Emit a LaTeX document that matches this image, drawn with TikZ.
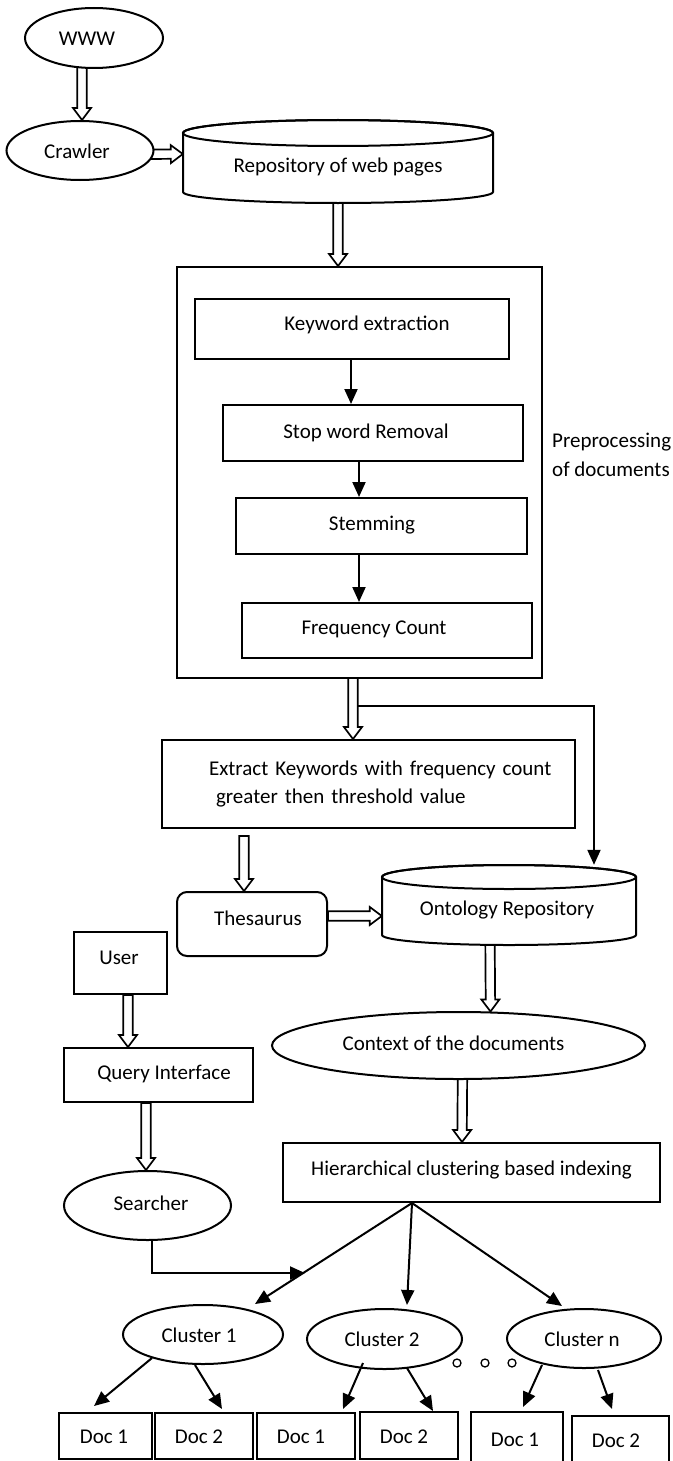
\documentclass[tikz,border=0pt]{standalone}
\usepackage{fontspec}
\setmainfont{Carlito}
\usetikzlibrary{calc,arrows.meta,shapes.geometric}
\pgfdeclarelayer{bg}
\pgfsetlayers{bg,main}
\newcommand\hs[1]{\hspace*{#1pt}}
% hollow block arrow from #1 to #2
\newcommand\barr[2]{%
  \coordinate (bs) at #1;
  \coordinate (be) at #2;
  \coordinate (bh) at ($(be)!12pt!(bs)$);
  \draw[blk] ($(bs)!4.7pt!90:(be)$) -- ($(bh)!4.7pt!90:(be)$) -- ($(bh)!9pt!90:(be)$) -- (be)
    -- ($(bh)!9pt!-90:(be)$) -- ($(bh)!4.7pt!-90:(be)$) -- ($(bs)!4.7pt!-90:(be)$) -- cycle;}
\begin{document}
\begin{tikzpicture}[x=1pt,y=-1pt,
  every node/.style={font=\fontsize{21}{26}\selectfont, inner sep=0pt, text height=20pt, text depth=5pt},
  lw/.style={line width=2pt},
  box/.style={draw, lw, fill=white},
  ell/.style={box, ellipse},
  arr/.style={lw, -{Triangle[length=15pt,width=13pt]}},
  blk/.style={draw, line width=1.7pt, fill=white, line join=miter},
  dot/.style={draw, circle, line width=1.3pt, minimum size=8pt, text height=0pt, text depth=0pt}
]
\useasboundingbox (0,0) rectangle (672,1461);
\clip (0,0) rectangle (672,1461);

% top
\node[ell, minimum width=138pt, minimum height=60pt] (www) at (94,38) {WWW\hs{14}};
\node[ell, minimum width=147pt, minimum height=59pt] (crawler) at (80,150.5) {Crawler\hs{6}};

% repository cylinder
\draw[lw, fill=white] (183,133) -- (183,192) arc[start angle=180, end angle=0, x radius=155, y radius=11]
  -- (493,133) arc[start angle=0, end angle=-180, x radius=155, y radius=13] -- cycle;
\draw[lw] (338,133) ellipse [x radius=155, y radius=13];
\node[minimum width=310pt, minimum height=83pt, text height=27pt] (repo) at (338,161.5) {Repository of web pages};

% preprocessing
\node[box, minimum width=365pt, minimum height=411pt] (pre) at (359.5,472.5) {};
\node[box, minimum width=314pt, minimum height=60pt, text depth=17pt] (kw) at (352,329) {\hs{30}Keyword extraction};
\node[box, minimum width=300pt, minimum height=56pt, text depth=9pt] (sw) at (373,433) {Stop word Removal\hs{14}};
\node[box, minimum width=291pt, minimum height=56pt, text depth=11pt] (stem) at (381.5,526) {Stemming\hs{19}};
\node[box, minimum width=290pt, minimum height=55pt, text depth=12pt] (freq) at (387,630.5) {Frequency Count\hs{26}};
\node[anchor=west, align=left, text height=, text depth=, font=\fontsize{21}{29}\selectfont] (prep) at (552,455) {Preprocessing\\of documents};

% extract
\node[box, minimum width=413pt, minimum height=88pt, text width=380pt, align=left, text height=, text depth=, font=\fontsize{21}{28}\selectfont] (ext) at (368.5,784)
  {\hspace*{30.5pt}Extract Keywords with frequency count\\\hspace*{37.5pt}greater then threshold value};

\node[box, rounded corners=10pt, minimum width=150pt, minimum height=64pt, text depth=17pt] (thes) at (252,924) {\hs{12}Thesaurus};

% ontology cylinder
\draw[lw, fill=white] (382,877) -- (382,935) arc[start angle=180, end angle=0, x radius=127, y radius=10]
  -- (636,877) arc[start angle=0, end angle=-180, x radius=127, y radius=12] -- cycle;
\draw[lw] (509,877) ellipse [x radius=127, y radius=12];
\node[minimum width=254pt, minimum height=80pt, text height=26pt] (onto) at (509,905) {Ontology Repository\hs{4}};

\node[box, minimum width=93pt, minimum height=62pt, text depth=17pt] (user) at (120.5,963) {User\hs{3}};
\node[box, minimum width=189pt, minimum height=54pt, text depth=11pt] (query) at (158.5,1075) {\hs{11}Query Interface};
\node[ell, minimum width=373pt, minimum height=67pt, text depth=10pt] (ctx) at (458.5,1045.5) {Context of the documents\hs{10}};
\node[ell, minimum width=167pt, minimum height=69pt, text depth=10pt] (searcher) at (147.5,1205.5) {\hs{7}Searcher};
\node[box, minimum width=377pt, minimum height=59pt, text depth=14pt] (hier) at (471.5,1172.5) {Hierarchical clustering based indexing};

% clusters
\node[ell, minimum width=160pt, minimum height=59pt] (c1) at (203,1334.5) {Cluster 1\hs{8}};
\node[ell, minimum width=155pt, minimum height=60pt] (c2) at (384.5,1339) {Cluster 2\hs{5}};
\node[ell, minimum width=154pt, minimum height=59pt] (cn) at (584,1338.5) {Cluster n\hs{4}};
\node[dot] (o1) at (457,1363) {};
\node[dot] (o2) at (485,1363) {};
\node[dot] (o3) at (512,1363) {};

% docs
\node[box, minimum width=93pt, minimum height=46pt] (d11) at (105.5,1436) {Doc 1\hs{3}};
\node[box, minimum width=98pt, minimum height=46pt] (d12) at (204,1436) {Doc 2\hs{10}};
\node[box, minimum width=98pt, minimum height=46pt] (d21) at (306,1436) {Doc 1\hs{10}};
\node[box, minimum width=98pt, minimum height=47pt] (d22) at (409,1435.5) {Doc 2\hs{10}};
\node[box, minimum width=92pt, minimum height=53pt] (dn1) at (517,1438.5) {Doc 1\hs{4}};
\node[box, minimum width=97pt, minimum height=54pt, text depth=11pt] (dn2) at (620.5,1443) {Doc 2\hs{9}};

% hollow block arrows
\begin{pgfonlayer}{bg}
\barr{($(www.south)+(-12,-10)$)}{($(crawler.north)+(2,0)$)}
\barr{($(crawler.center)+(50,4)$)}{($(repo.west)+(0,-7.5)$)}
\barr{($(repo.south)+(0,-8)$)}{($(pre.north)+(-21.5,0)$)}
\barr{($(pre.south)+(-6.5,-2)$)}{($(ext.north)+(-15.5,0)$)}
\barr{($(ext.south)+(-124.5,7)$)}{($(thes.north)+(-8,0)$)}
\barr{($(thes.east)+(0,-8)$)}{($(onto.west)+(0,11)$)}
\barr{($(onto.south)+(-19,-5)$)}{($(ctx.north)+(32,0.5)$)}
\barr{($(user.south)+(7.5,0)$)}{($(query.north)+(-30.5,0)$)}
\barr{($(query.south)+(-12.5,0)$)}{($(searcher.north)+(-1.5,0)$)}
\barr{($(ctx.south)+(4,-5)$)}{($(hier.north)+(-9.5,0)$)}
\end{pgfonlayer}

% thin arrows
\draw[arr] ($(kw.south)+(-1,0)$) -- ($(sw.north)+(-22,0)$);
\draw[arr] ($(sw.south)+(-14,0)$) -- ($(stem.north)+(-22.5,0)$);
\draw[arr] ($(stem.south)+(-22.5,0)$) -- ($(freq.north)+(-28,0)$);
\coordinate (br) at ($(ext.north)+(-11,-33)$);
\draw[arr] (br) -| ($(onto.north)+(85,0)$);
\coordinate (sj) at (305,1273);
\draw[arr] ($(searcher.south)+(4.5,0)$) |- (sj);
\coordinate (hb) at ($(hier.south)+(-59.5,0)$);
\draw[arr] (hb) -- ($(c1.north)+(52,0)$);
\draw[arr] (hb) -- ($(c2.north)+(22.5,-3)$);
\draw[arr] (hb) -- ($(cn.north)+(-22,-2)$);
\draw[arr] ($(c1.center)+(-51,23.5)$) -- ($(d11.north)+(-11.5,-6)$);
\draw[arr] ($(c1.south)+(-8,0)$) -- ($(d12.north)+(18,-3)$);
\draw[arr] ($(c2.center)+(-21.5,24)$) -- ($(d21.north)+(37,-3)$);
\draw[arr] ($(c2.center)+(22.5,29)$) -- ($(d22.north)+(24,0)$);
\draw[arr] ($(cn.center)+(-42,26.5)$) -- ($(dn1.north)+(6,-4)$);
\draw[arr] ($(cn.center)+(14,31.5)$) -- ($(dn2.north)+(-8.5,-6)$);
\end{tikzpicture}
\end{document}
